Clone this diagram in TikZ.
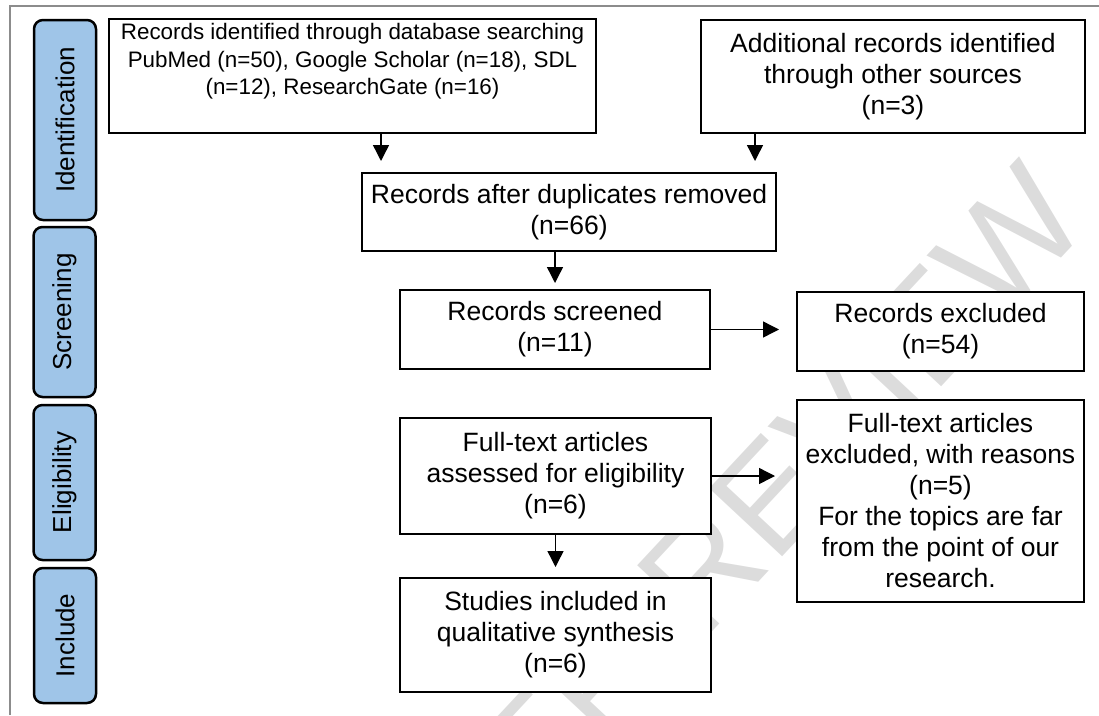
\documentclass[tikz,border=0pt]{standalone}
\usepackage{fontspec}
\setmainfont{Liberation Sans}
\usetikzlibrary{arrows.meta}
\definecolor{phaseblue}{HTML}{9FC5E8}
\definecolor{framegray}{HTML}{8C8C8C}
\definecolor{wmgray}{HTML}{DCDCDC}
\begin{document}
\begin{tikzpicture}[x=1pt,y=-1pt,
  box/.style={draw=black, line width=2pt, fill=white, align=center, inner sep=0pt, font=\fontsize{26.5}{31}\selectfont},
  phase/.style={draw=black, line width=2.5pt, fill=phaseblue, rounded corners=9pt, inner sep=0pt, rotate=90, font=\fontsize{26}{30}\selectfont, minimum height=62pt},
  arr/.style={line width=1.4pt, -{Triangle[length=16pt,width=16pt]}}]
\useasboundingbox (0,0) rectangle (1099,715);
\begin{scope}
\clip (0,0) rectangle (1099,715);
\node[rotate=47, text=wmgray, font=\fontsize{145}{145}\selectfont, inner sep=0pt] (wm) at (595,685) {FOR PEER REVIEW};
\end{scope}
\draw[framegray, line width=2pt] (10,715) -- (10,6) -- (1099,6);

\node[phase, minimum width=200pt] (pid) at (65,120) {Identification};
\node[phase, minimum width=170pt] (pscr) at (64.5,312) {Screening};
\node[phase, minimum width=155pt] (pel) at (64.5,482.5) {Eligibility};
\node[phase, minimum width=135pt] (pin) at (65,635.5) {Include};

\node[box, minimum width=487pt, minimum height=114pt] (b1) at (352.5,76) {};
\node[font=\fontsize{22.4}{27.5}\selectfont, align=center, inner sep=0pt, anchor=north] (b1t) at (352.5,23.5) {Records identified through database searching\\PubMed (n=50), Google Scholar (n=18), SDL\\(n=12), ResearchGate (n=16)};
\node[box, minimum width=384pt, minimum height=113pt] (b2) at (893,76.5) {Additional records identified\\through other sources\\(n=3)};
\node[box, minimum width=414pt, minimum height=78pt] (b3) at (569,212) {Records after duplicates removed\\(n=66)};
\node[box, minimum width=310pt, minimum height=79pt] (b4) at (555,329.5) {Records screened\\(n=11)};
\node[box, minimum width=287pt, minimum height=79pt] (b5) at (940.5,331.5) {Records excluded\\(n=54)};
\node[box, minimum width=311pt, minimum height=116pt] (b6) at (555.5,476) {Full-text articles\\assessed for eligibility\\(n=6)};
\node[box, minimum width=311pt, minimum height=114pt] (b7) at (555.5,635) {Studies included in\\qualitative synthesis\\(n=6)};
\node[box, minimum width=287pt, minimum height=202pt] (b8) at (940.5,501) {Full-text articles\\excluded, with reasons\\(n=5)\\For the topics are far\\from the point of our\\research.};

\coordinate (a1) at ([xshift=20pt]b3.north west);
\coordinate (a2) at ([xshift=-22pt]b3.north east);
\draw[arr, shorten >=11pt] (a1 |- b1.south) -- (a1);
\draw[arr, shorten >=11pt] (a2 |- b2.south) -- (a2);
\draw[arr, shorten >=6pt] (b4.north |- b3.south) -- (b4.north);
\draw[arr, shorten >=17pt] (b4.east) -- (b5.west |- b4.east);
\draw[arr, shorten >=21pt] (b6.east) -- (b8.west |- b6.east);
\draw[arr, shorten >=10pt] (b6.south) -- (b7.north);
\end{tikzpicture}
\end{document}
